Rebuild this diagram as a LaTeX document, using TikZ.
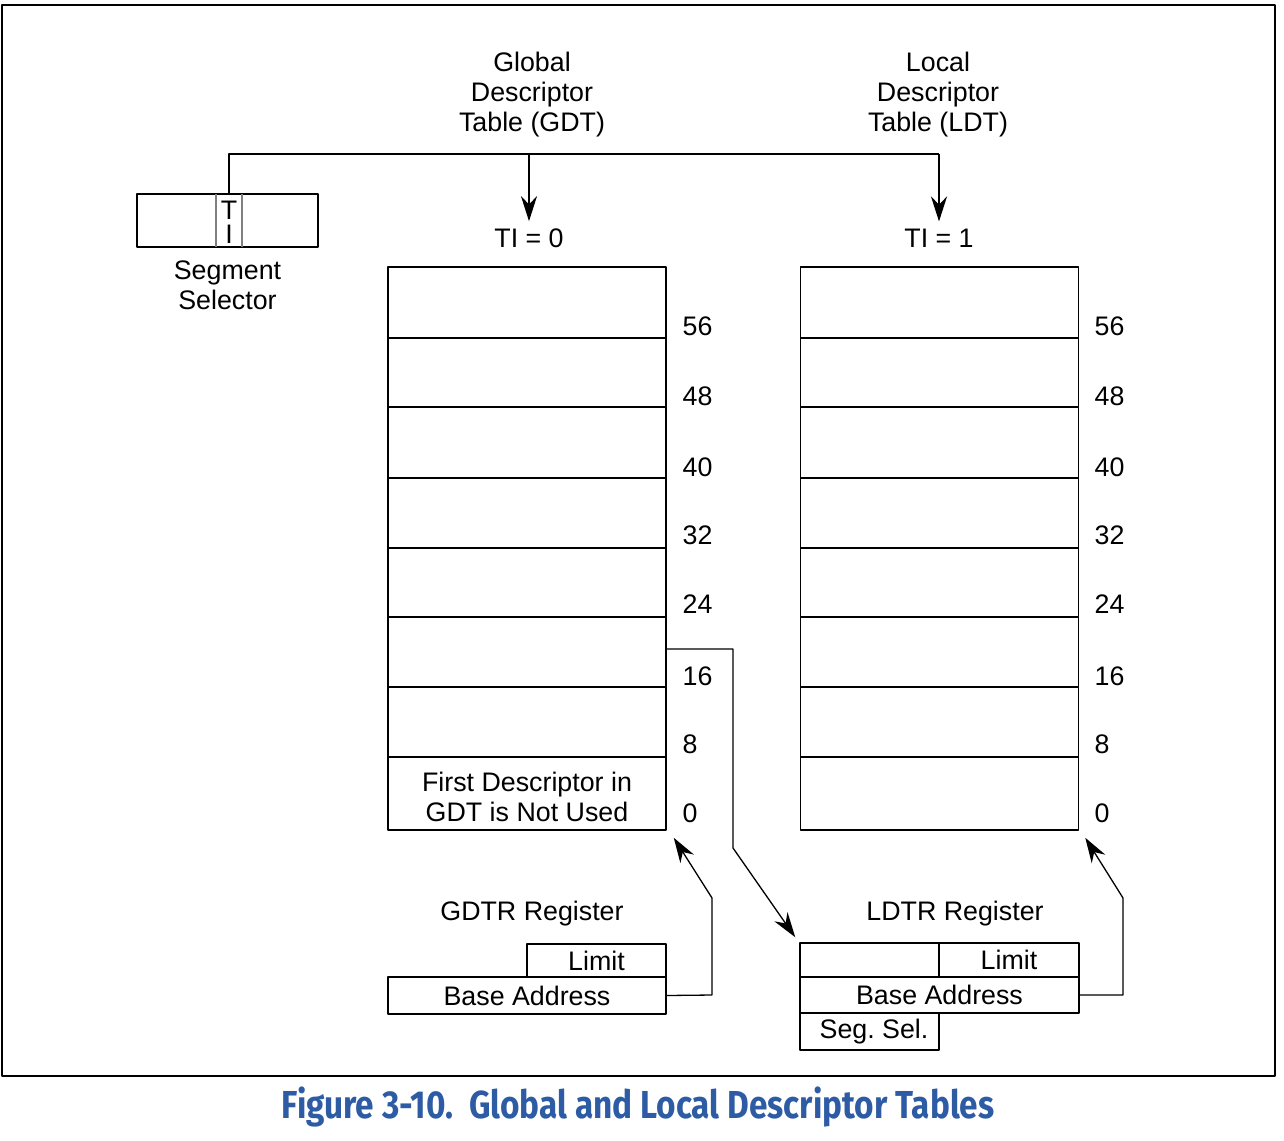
\documentclass[tikz,border=0pt]{standalone}
\usepackage{fontspec}
\setmainfont{Liberation Sans}
\newfontfamily\capfont{Fira Sans}
\usetikzlibrary{arrows.meta,positioning}
\definecolor{capblue}{RGB}{46,92,164}
\frenchspacing
\tikzset{
  tablebox/.style={draw, line width=0.75pt, rectangle, minimum width=139pt, minimum height=281.5pt, inner sep=0pt},
  regbox/.style={draw, line width=0.75pt, rectangle, minimum height=17pt, inner sep=0pt},
  offlabel/.style={anchor=west, inner sep=0pt},
}
\begin{document}
\begin{tikzpicture}[x=0.5pt, y=-0.5pt, font=\fontsize{13.4}{15}\selectfont, line join=round, line width=0.65pt, >={Stealth[length=12.5pt,width=8pt]}]
\useasboundingbox (0,0) rectangle (1284,1140);
\draw[line width=1pt] (2,5) rectangle (1275,1076);
% segment selector
\node[regbox, minimum width=90.5pt, minimum height=26.5pt] (sel) at (227.5,220.5) {};
\draw[gray] (216,194) -- (216,247) (242,194) -- (242,247);
\node (selT) at (229,210) {T};
\node (selI) at (229,234) {I};
\node[below=3pt of sel, align=center] (sellabel) {Segment\\Selector};
% tables
\node[tablebox] (gdt) at (527,548.5) {};
\node[tablebox] (ldt) at (939.5,548.5) {};
\foreach \y in {338,407,478,548,617,687,757}{
  \draw (388,\y) -- (666,\y);
  \draw (800,\y) -- (1079,\y);
}
\foreach \y/\n in {326/56,396/48,467/40,535/32,604/24,676/16,744/8,813/0}{
  \node[offlabel] at (682,\y) {\n};
  \node[offlabel] at (1094,\y) {\n};
}
\node[align=center] (unused) at (527,797) {First Descriptor in\\GDT is Not Used};
% titles
\node[align=center] (gdttitle) at (532,95) {Global\\Descriptor\\Table (GDT)};
\node[align=center] (ldttitle) at (938,95) {Local\\Descriptor\\Table (LDT)};
\node (ti0) at (529,238) {TI = 0};
\node (ti1) at (939,238) {TI = 1};
\coordinate (split) at (529,154);
\draw (sel.north -| selT) -- (229,154) -- (939,154);
\draw[->] (split) -- (ti0.north);
\draw[->] (939,154) -- (ti1.north);
% registers
\node (gdtrlabel) at (532,914) {GDTR Register};
\node[regbox, minimum width=69.5pt, minimum height=16.5pt] (glimit) at (596.5,960.5) {Limit};
\node[regbox, minimum width=139pt, minimum height=18.5pt] (gbase) at (527,995.5) {Base Address};
\node (ldtrlabel) at (955,914) {LDTR Register};
\node[regbox, minimum width=69.5pt] (lempty) at (869.5,960) {};
\node[regbox, minimum width=70pt] (llimit) at (1009,960) {Limit};
\node[regbox, minimum width=139.5pt, minimum height=18pt] (lbase) at (939.5,995) {Base Address};
\node[regbox, minimum width=69.5pt, minimum height=18.5pt] (lsel) at (869.5,1031.5) {\hspace*{4.5pt}Seg. Sel.};
% connectors
\draw[->] (gbase.east) -- (712,995) -- (712,898) -- ([shift={(7,7)}]gdt.south east);
\draw[->] (lbase.east) -- (1123,995) -- (1123,898) -- ([shift={(6,7)}]ldt.south east);
\draw[->] (gdt.east |- {(0,649)}) -- (733,649) -- (733,848) -- ([shift={(-4,-5)}]lempty.north west);
% caption
\node[font=\capfont\bfseries\fontsize{19.5}{22}\selectfont, text=capblue] (caption) at (638,1107) {\scalebox{0.855}[1]{Figure 3-10.\ \ Global and Local Descriptor Tables}};
\end{tikzpicture}
\end{document}
